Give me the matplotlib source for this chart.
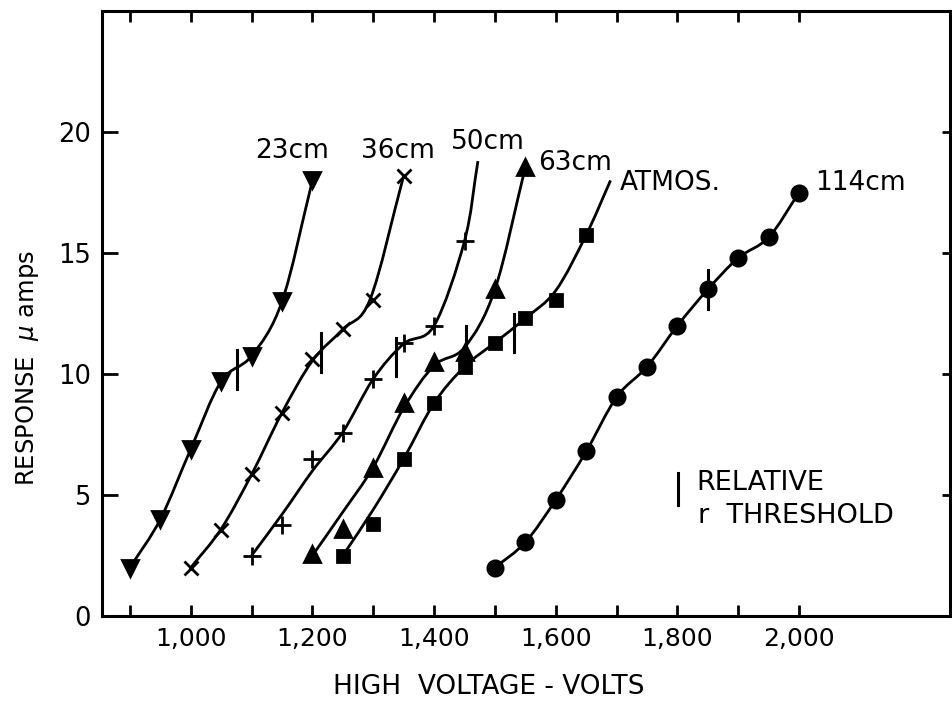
import numpy as np
import matplotlib
matplotlib.use('Agg')
import matplotlib.pyplot as plt
from matplotlib.path import Path
from matplotlib.patches import PathPatch
from matplotlib.ticker import FuncFormatter

plt.rcParams['font.family'] = 'DejaVu Sans'
plt.rcParams['mathtext.fontset'] = 'dejavusans'

# volts vs response (micro amps), plotted points
v23 = [900, 950, 1000, 1050, 1100, 1150, 1200]
r23 = [2.0, 4.0, 6.9, 9.7, 10.75, 13.0, 18.0]

v36 = [1000, 1050, 1100, 1150, 1200, 1250, 1300, 1350]
r36 = [2.0, 3.55, 5.85, 8.4, 10.6, 11.85, 13.05, 18.2]

v50 = [1100, 1150, 1200, 1250, 1300, 1350, 1400, 1450]
r50 = [2.5, 3.75, 6.5, 7.55, 9.8, 11.3, 12.0, 15.5]

v63 = [1200, 1250, 1300, 1350, 1400, 1450, 1500, 1550]
r63 = [2.55, 3.6, 6.1, 8.8, 10.5, 10.9, 13.5, 18.55]

vatm = [1250, 1300, 1350, 1400, 1450, 1500, 1550, 1600, 1650]
ratm = [2.5, 3.8, 6.5, 8.8, 10.3, 11.3, 12.3, 13.05, 15.75]

v114 = [1500, 1550, 1600, 1650, 1700, 1750, 1800, 1850, 1900, 1950, 2000]
r114 = [2.0, 3.05, 4.8, 6.8, 9.05, 10.3, 12.0, 13.5, 14.8, 15.65, 17.5]

c36_v = [1000, 1050, 1100, 1150, 1200, 1250, 1295, 1350]
c36_r = [2.0, 3.6, 5.85, 8.4, 10.55, 11.85, 13.1, 18.2]
c50_v = [1100, 1150, 1200, 1250, 1300, 1350, 1400, 1450, 1472]
c50_r = [2.5, 4.2, 6.0, 7.6, 9.8, 11.25, 12.0, 15.5, 18.8]
c63_v = [1200, 1250, 1300, 1350, 1400, 1450, 1500, 1550]
c63_r = [2.5, 4.3, 6.15, 8.6, 10.35, 11.1, 13.5, 18.55]
catm_v = [1250, 1300, 1350, 1400, 1450, 1500, 1550, 1600, 1650, 1690]
catm_r = [2.5, 4.4, 6.5, 8.8, 10.3, 11.3, 12.3, 13.45, 15.75, 18.0]

# relative threshold marks (volts, response at centre)
thr_v = [1076, 1214, 1337, 1453, 1532, 1851]
thr_r = [10.2, 10.9, 10.7, 11.2, 11.7, 13.5]
thr_half = 0.8

labels = ['23cm', '36cm', '50cm', '63cm', 'ATMOS.', '114cm']
label_v = [1166, 1341, 1489, 1571, 1706, 2027]
label_r = [19.2, 19.2, 19.6, 18.7, 17.9, 17.9]
label_ha = ['center', 'center', 'center', 'left', 'left', 'left']


def smooth(ax, xs, ys):
    # catmull-rom through the knots, drawn as a bezier path
    p = np.column_stack([xs, ys]).astype(float)
    p = np.vstack([2 * p[0] - p[1], p, 2 * p[-1] - p[-2]])
    verts = [p[1]]
    codes = [Path.MOVETO]
    for i in range(1, len(p) - 2):
        c1 = p[i] + (p[i + 1] - p[i - 1]) / 6
        c2 = p[i + 1] - (p[i + 2] - p[i]) / 6
        verts += [c1, c2, p[i + 1]]
        codes += [Path.CURVE4] * 3
    ax.add_patch(PathPatch(Path(verts, codes), fill=False, lw=2.0, color='black'))


fig = plt.figure(figsize=(9.52, 7.02), dpi=100)
ax = fig.add_axes([0.1071, 0.1225, 0.8908, 0.8618])

series = [
    (v23, r23, v23, r23, 'v', 12),
    (v36, r36, c36_v, c36_r, 'x', 10),
    (v50, r50, c50_v, c50_r, '+', 13),
    (v63, r63, c63_v, c63_r, '^', 12),
    (vatm, ratm, catm_v, catm_r, 's', 9),
    (v114, r114, v114, r114, 'o', 11),
]
for xs, ys, cx, cy, m, ms in series:
    smooth(ax, cx, cy)
    ax.plot(xs, ys, ls='none', marker=m, ms=ms, mew=2, color='black')

for tv, tr in zip(thr_v, thr_r):
    ax.plot([tv, tv], [tr - thr_half, tr + thr_half], color='black', lw=2.2)

for t, x, y, ha in zip(labels, label_v, label_r, label_ha):
    ax.text(x, y, t, ha=ha, va='center', fontsize=19)

# key
ax.plot([1801, 1801], [4.6, 5.9], color='black', lw=2.2)
ax.text(1831, 5.5, 'RELATIVE', fontsize=19.5, va='center')
ax.text(1833, 4.15, 'r  THRESHOLD', fontsize=19.5, va='center')

ax.set_xlim(854, 2248)
ax.set_ylim(0, 25)

ax.xaxis.set_major_locator(plt.FixedLocator([1000, 1200, 1400, 1600, 1800, 2000]))
ax.xaxis.set_minor_locator(plt.FixedLocator([900, 1100, 1300, 1500, 1700, 1900]))
ax.xaxis.set_major_formatter(FuncFormatter(lambda v, p: f'{int(v):,}'))
ax.yaxis.set_major_locator(plt.FixedLocator([0, 5, 10, 15, 20]))

ax.tick_params(axis='x', which='both', direction='in', top=True, length=8, width=2,
               labelsize=18, pad=8)
ax.tick_params(axis='y', which='both', direction='in', length=11.5, width=2,
               labelsize=18.5, pad=8)
ax.tick_params(axis='y', which='both', right=True, labelright=False)
for t in ax.yaxis.get_ticklines()[1::2]:
    t.set_markersize(6)
for s in ax.spines.values():
    s.set_linewidth(2.2)

fig.text(489 / 952, 1 - 687 / 702, 'HIGH  VOLTAGE - VOLTS', ha='center', va='center',
         fontsize=19)
fig.text(28 / 952, 1 - 368 / 702, r'RESPONSE  $\mu$ amps', ha='center', va='center',
         rotation=90, fontsize=17.5)

fig.savefig('out.png', dpi=100)
